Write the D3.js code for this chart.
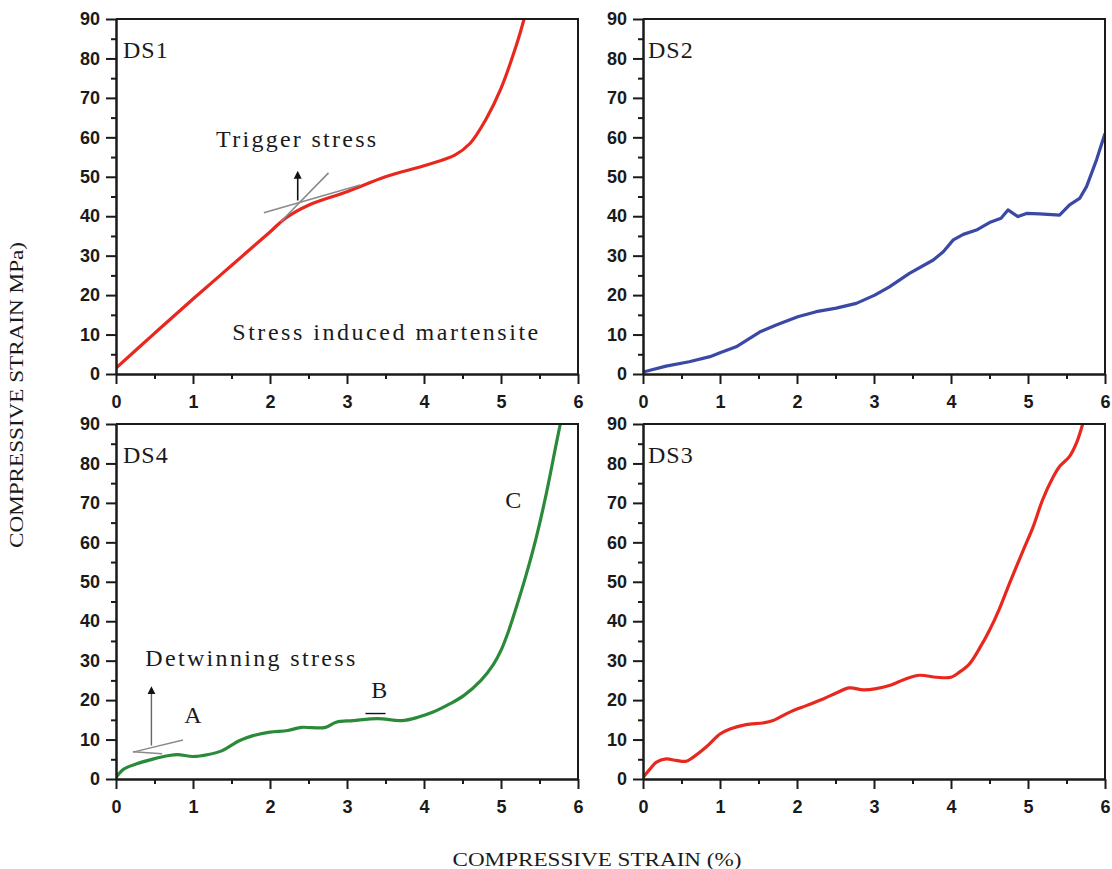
<!DOCTYPE html>
<html>
<head>
<meta charset="utf-8">
<script src="https://cdn.jsdelivr.net/npm/d3@7"></script>
<style>
body { margin: 0; background: #fff; }
svg { display: block; }
.tick text { font-family: "Liberation Sans", Arial, sans-serif; font-weight: bold; font-size: 18px; fill: #1a1a1a; }
.tick line, .domain { stroke: #1a1a1a; stroke-width: 2px; }
.serif { font-family: "Liberation Serif", "Times New Roman", serif; fill: #1a1a1a; }
</style>
</head>
<body>
<svg id="chart" width="1112" height="869"></svg>
<script>
// tick values
var xTicks = [0, 1, 2, 3, 4, 5, 6],
    xMinorTicks = [0.5, 1.5, 2.5, 3.5, 4.5, 5.5],
    yTicks = [0, 10, 20, 30, 40, 50, 60, 70, 80, 90],
    yMinorTicks = [5, 15, 25, 35, 45, 55, 65, 75, 85];

// strain (%) , stress (MPa)
var ds1 = [[0, 1.5], [0.5, 10.3], [1, 19], [1.5, 27.5], [2, 36], [2.2, 39.5], [2.5, 42.8],
           [3, 46.2], [3.5, 50], [4, 52.8], [4.4, 55.5], [4.6, 58.5], [4.8, 64.4],
           [5, 72.4], [5.2, 83.4], [5.3, 90]];
var ds2 = [[0, 0.5], [0.3, 2], [0.6, 3.1], [0.87, 4.4], [1, 5.4], [1.21, 6.9], [1.52, 10.7],
           [1.73, 12.4], [2.01, 14.5], [2.25, 15.8], [2.51, 16.7], [2.77, 17.9], [3.01, 20],
           [3.2, 22.1], [3.46, 25.5], [3.77, 28.9], [3.9, 31], [4.03, 34], [4.16, 35.4],
           [4.33, 36.5], [4.5, 38.4], [4.65, 39.5], [4.74, 41.6], [4.87, 39.9], [4.98, 40.7],
           [5.15, 40.6], [5.41, 40.3], [5.54, 42.9], [5.67, 44.5], [5.76, 47.5], [5.89, 54.3],
           [6, 61]];
var ds4 = [[0, 0.4], [0.1, 2.5], [0.26, 3.8], [0.49, 5.1], [0.67, 5.9], [0.8, 6.2], [1, 5.7],
           [1.2, 6.2], [1.38, 7.2], [1.6, 9.7], [1.78, 11], [2, 11.9], [2.23, 12.3],
           [2.41, 13.1], [2.55, 13], [2.72, 13.1], [2.86, 14.4], [3.08, 14.8], [3.4, 15.3],
           [3.71, 14.8], [3.93, 15.7], [4.11, 16.9], [4.34, 19.1], [4.52, 21.2], [4.74, 25],
           [4.9, 29], [5.0, 32.6], [5.1, 37.6], [5.2, 43.6], [5.32, 51.3], [5.46, 61.4],
           [5.59, 72.5], [5.72, 85.2], [5.77, 90]];
var ds3 = [[0, 0.4], [0.09, 2.5], [0.17, 4.2], [0.3, 5.1], [0.43, 4.7], [0.56, 4.5], [0.65, 5.5],
           [0.82, 8.1], [1, 11.4], [1.13, 12.7], [1.34, 13.8], [1.56, 14.2], [1.69, 14.8],
           [1.9, 16.9], [2.12, 18.6], [2.34, 20.3], [2.51, 21.8], [2.68, 23.1], [2.86, 22.6],
           [3.03, 22.9], [3.2, 23.7], [3.42, 25.4], [3.59, 26.3], [3.81, 25.8], [4, 25.8],
           [4.11, 27.1], [4.24, 29.2], [4.37, 33.1], [4.5, 37.7], [4.63, 43.2], [4.76, 49.6],
           [4.94, 58.1], [5.06, 63.6], [5.19, 70.8], [5.32, 76.3], [5.41, 79.2], [5.54, 81.8],
           [5.63, 85.2], [5.71, 90]];

// panel layout
var colLeft = [116, 643],
    rowTop = [19, 424],
    panelW = 462,
    panelH = 355;

var panels = [
    {name: "DS1", data: ds1, color: "#e8281e", col: 0, row: 0, curve: d3.curveCatmullRom},
    {name: "DS2", data: ds2, color: "#3a48a6", col: 1, row: 0, curve: d3.curveLinear},
    {name: "DS4", data: ds4, color: "#2b8a3a", col: 0, row: 1, curve: d3.curveCatmullRom},
    {name: "DS3", data: ds3, color: "#e8281e", col: 1, row: 1, curve: d3.curveCatmullRom}
];

var svg = d3.select("#chart");
var defs = svg.append("defs");
defs.append("marker")
    .attr("id", "arrow")
    .attr("viewBox", "0 0 10 10")
    .attr("refX", 5).attr("refY", 5)
    .attr("markerWidth", 8).attr("markerHeight", 10)
    .attr("markerUnits", "userSpaceOnUse")
    .attr("orient", "auto")
    .append("path")
    .attr("d", "M0,0 L10,5 L0,10 z")
    .attr("fill", "#111");

var scales = {};
var fmt = d3.format("d");

panels.forEach(function(p, i) {
    var left = colLeft[p.col],
        top = rowTop[p.row],
        bottom = top + panelH;
    var x = d3.scaleLinear().domain([0, 6]).range([left, left + panelW]);
    var y = d3.scaleLinear().domain([0, 90]).range([bottom, top]);
    scales[p.name] = {x: x, y: y};

    defs.append("clipPath").attr("id", "clip" + i)
        .append("rect")
        .attr("x", left).attr("y", top)
        .attr("width", panelW).attr("height", panelH);

    var g = svg.append("g");

    // curve
    var line = d3.line()
        .x(function(d) { return x(d[0]); })
        .y(function(d) { return y(d[1]); })
        .curve(p.curve);
    g.append("path")
        .datum(p.data)
        .attr("clip-path", "url(#clip" + i + ")")
        .attr("fill", "none")
        .attr("stroke", p.color)
        .attr("stroke-width", 3.2)
        .attr("stroke-linejoin", "round")
        .attr("d", line);

    // minor ticks
    g.append("g")
        .attr("transform", "translate(0," + bottom + ")")
        .call(d3.axisBottom(x).tickValues(xMinorTicks).tickSize(5).tickSizeOuter(0).tickFormat(""));
    g.append("g")
        .attr("transform", "translate(" + left + ",0)")
        .call(d3.axisLeft(y).tickValues(yMinorTicks).tickSize(5).tickSizeOuter(0).tickFormat(""));

    // major ticks
    g.append("g")
        .attr("transform", "translate(0," + bottom + ")")
        .call(d3.axisBottom(x).tickValues(xTicks).tickFormat(fmt).tickSize(10).tickPadding(11).tickSizeOuter(0));
    g.append("g")
        .attr("transform", "translate(" + left + ",0)")
        .call(d3.axisLeft(y).tickValues(yTicks).tickFormat(fmt).tickSize(10).tickPadding(6).tickSizeOuter(0));

    // top and right frame
    g.append("path")
        .attr("d", "M" + x(0) + "," + y(90) + "H" + x(6) + "V" + y(0))
        .attr("fill", "none")
        .attr("stroke", "#1a1a1a")
        .attr("stroke-width", 2);

    // panel name
    g.append("text")
        .attr("class", "serif")
        .attr("x", left + (p.col === 0 ? 7 : 5))
        .attr("y", top + 39)
        .attr("font-size", 24)
        .attr("letter-spacing", 1)
        .text(p.name);
});

function seg(sc, p0, p1, color, width, marker) {
    var l = svg.append("line")
        .attr("x1", sc.x(p0[0])).attr("y1", sc.y(p0[1]))
        .attr("x2", sc.x(p1[0])).attr("y2", sc.y(p1[1]))
        .attr("stroke", color)
        .attr("stroke-width", width);
    if (marker) l.attr("marker-end", "url(#arrow)");
    return l;
}
function label(sc, xv, yv, txt, len, anchor) {
    var t = svg.append("text")
        .attr("class", "serif")
        .attr("x", sc.x(xv)).attr("y", sc.y(yv))
        .attr("font-size", 24)
        .attr("text-anchor", anchor || "start")
        .text(txt);
    if (len) t.attr("textLength", len).attr("lengthAdjust", "spacing");
    return t;
}

// annotations DS1
var a1 = scales.DS1;
seg(a1, [1.92, 40.9], [3.17, 47.9], "#8a8a8a", 1.6);
seg(a1, [2.14, 38.6], [2.76, 51.0], "#8a8a8a", 1.6);
seg(a1, [2.36, 44], [2.36, 50.5], "#111", 1.6, true);
label(a1, 1.30, 57.6, "Trigger stress", 160);
label(a1, 1.51, 8.6, "Stress induced martensite", 306);

// annotations DS4
var a4 = scales.DS4;
seg(a4, [0.22, 6.8], [0.87, 9.9], "#8a8a8a", 1.4);
seg(a4, [0.22, 6.9], [0.6, 6.4], "#8a8a8a", 1.4);
seg(a4, [0.46, 8.5], [0.46, 22.5], "#666", 1.4, true);
label(a4, 0.38, 28.7, "Detwinning stress", 210);
label(a4, 1.0, 14.3, "A", null, "middle");
label(a4, 3.42, 20.6, "B", null, "middle");
seg(a4, [3.24, 16.6], [3.5, 16.6], "#111", 1.4);
label(a4, 5.16, 68.8, "C", null, "middle");

// axis titles
svg.append("text")
    .attr("class", "serif")
    .attr("transform", "translate(23,395) rotate(-90)")
    .attr("text-anchor", "middle")
    .attr("font-size", 19)
    .attr("textLength", 306)
    .attr("lengthAdjust", "spacingAndGlyphs")
    .text("COMPRESSIVE STRAIN MPa)");
svg.append("text")
    .attr("class", "serif")
    .attr("x", 597).attr("y", 866)
    .attr("text-anchor", "middle")
    .attr("font-size", 19)
    .attr("textLength", 289)
    .attr("lengthAdjust", "spacingAndGlyphs")
    .text("COMPRESSIVE STRAIN (%)");
</script>
</body>
</html>
